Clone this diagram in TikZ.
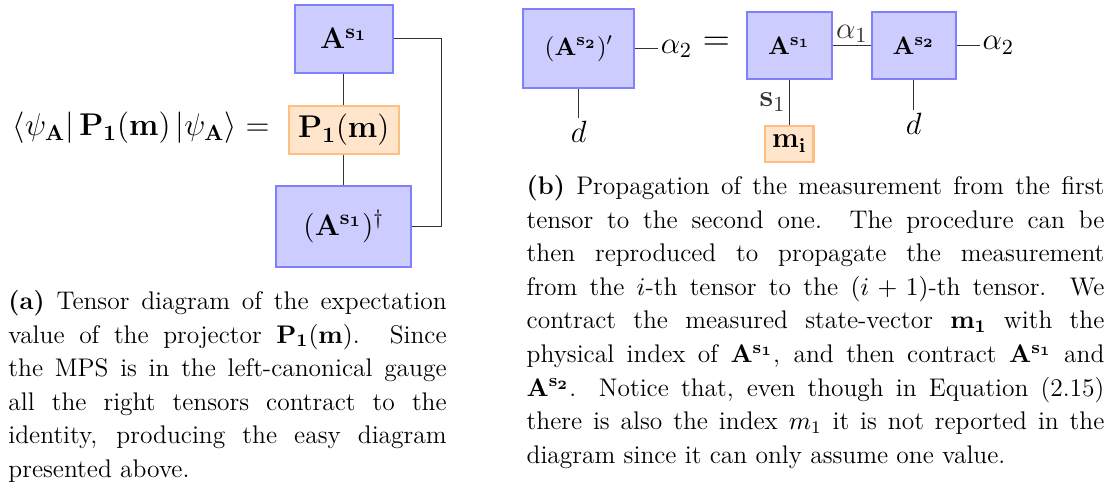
\RequirePackage{fix-cm}
\documentclass[tikz,border=0pt]{standalone}
\usepackage{amsmath}
\begin{document}
\begin{tikzpicture}[
    tensor/.style={draw=blue!50, fill=blue!20, line width=1pt, inner sep=0pt, font=\fontsize{11.5}{13}\selectfont},
    meas/.style={draw=orange!50, fill=orange!20, line width=1pt, inner sep=0pt, font=\fontsize{13}{15}\selectfont},
    wire/.style={black!80, line width=0.5pt},
    idx/.style={inner sep=1pt, font=\fontsize{14}{16}\selectfont},
    capt/.style={inner sep=0pt, anchor=north west, align=justify, font=\fontsize{11.6}{15.3}\selectfont}
  ]
  \useasboundingbox (0,0) rectangle (17.92,-7.84);
  % 左图：期望值
  \node[anchor=east, inner sep=0pt, font=\fontsize{14.3}{17}\selectfont] (expL) at (4.32,-2.05)
    {$\langle\psi_{\mathbf{A}}\rvert\,\mathbf{P_1(m)}\,\lvert\psi_{\mathbf{A}}\rangle =$};
  \node[tensor, minimum width=1.57cm, minimum height=1.09cm, font=\fontsize{13.5}{16}\selectfont] (As) at (5.50,-0.62) {$\mathbf{A^{s_1}}$};
  \node[meas, minimum width=1.76cm, minimum height=0.77cm, font=\fontsize{14.3}{17}\selectfont] (P) at (5.50,-2.08) {$\mathbf{P_1(m)}$};
  \node[tensor, minimum width=2.16cm, minimum height=1.30cm, font=\fontsize{13.5}{16}\selectfont] (Ad) at (5.50,-3.62) {$(\mathbf{A^{s_1}})^\dagger$};
  \coordinate (loopT) at (7.07,-0.62);
  \coordinate (loopB) at (7.07,-3.62);
  \draw[wire] (As) -- (P) -- (Ad);
  \draw[wire] (As.east) -- (loopT) -- (loopB) -- (Ad.east);
  % 右图：测量的传播
  \node[tensor, minimum width=1.78cm, minimum height=1.26cm] (Ap) at (9.26,-0.78) {$(\mathbf{A^{s_2}})'$};
  \node[idx, anchor=west] (aL) at (10.53,-0.78) {$\alpha_2$};
  \node[idx, anchor=north] (dL) at (9.26,-1.89) {$d$};
  \draw[wire] (Ap.east) -- (aL.west);
  \draw[wire] (Ap.south) -- (dL.north);
  \node[inner sep=0pt, font=\fontsize{17}{20}\selectfont] (eq) at (11.46,-0.70) {$=$};
  \node[tensor, minimum width=1.36cm, minimum height=1.07cm] (A1) at (12.63,-0.73) {$\mathbf{A^{s_1}}$};
  \node[tensor, minimum width=1.34cm, minimum height=1.07cm] (A2) at (14.62,-0.73) {$\mathbf{A^{s_2}}$};
  \node[meas, minimum width=0.77cm, minimum height=0.58cm] (mi) at (12.63,-2.30) {$\mathbf{m_i}$};
  \node[idx, anchor=west] (aR) at (15.68,-0.73) {$\alpha_2$};
  \node[idx, anchor=north] (dR) at (14.62,-1.76) {$d$};
  \draw[wire] (A1) -- node[idx, above] (a1) {$\alpha_1$} (A2);
  \draw[wire] (A1.south) -- node[idx, left=0.5pt] (s1) {$\mathbf{s}_1$} (mi.north);
  \draw[wire] (A2.south) -- (dR.north);
  \draw[wire] (A2.east) -- (aR.west);
  % 图注
  \node[capt, text width=199.5pt] (capA) at (0.128,-4.64) {\textbf{(a)} Tensor diagram of the expectation\linebreak
    value of the projector $\mathbf{P_1(m)}$. Since\linebreak
    the MPS is in the left-canonical gauge\linebreak
    all the right tensors contract to the\linebreak
    identity, producing the easy diagram\linebreak
    presented above.};
  \node[capt, text width=263pt] (capB) at (8.42,-2.80) {\textbf{(b)} Propagation of the measurement from the first\linebreak
    tensor to the second one. The procedure can be\linebreak
    then reproduced to propagate the measurement\linebreak
    from the $i$-th tensor to the $(i+1)$-th tensor. We\linebreak
    contract the measured state-vector $\mathbf{m_1}$ with the\linebreak
    physical index of $\mathbf{A^{s_1}}$, and then contract $\mathbf{A^{s_1}}$ and\linebreak
    $\mathbf{A^{s_2}}$. Notice that, even though in Equation (2.15)\linebreak
    there is also the index $m_1$ it is not reported in the\linebreak
    diagram since it can only assume one value.};
\end{tikzpicture}
\end{document}
